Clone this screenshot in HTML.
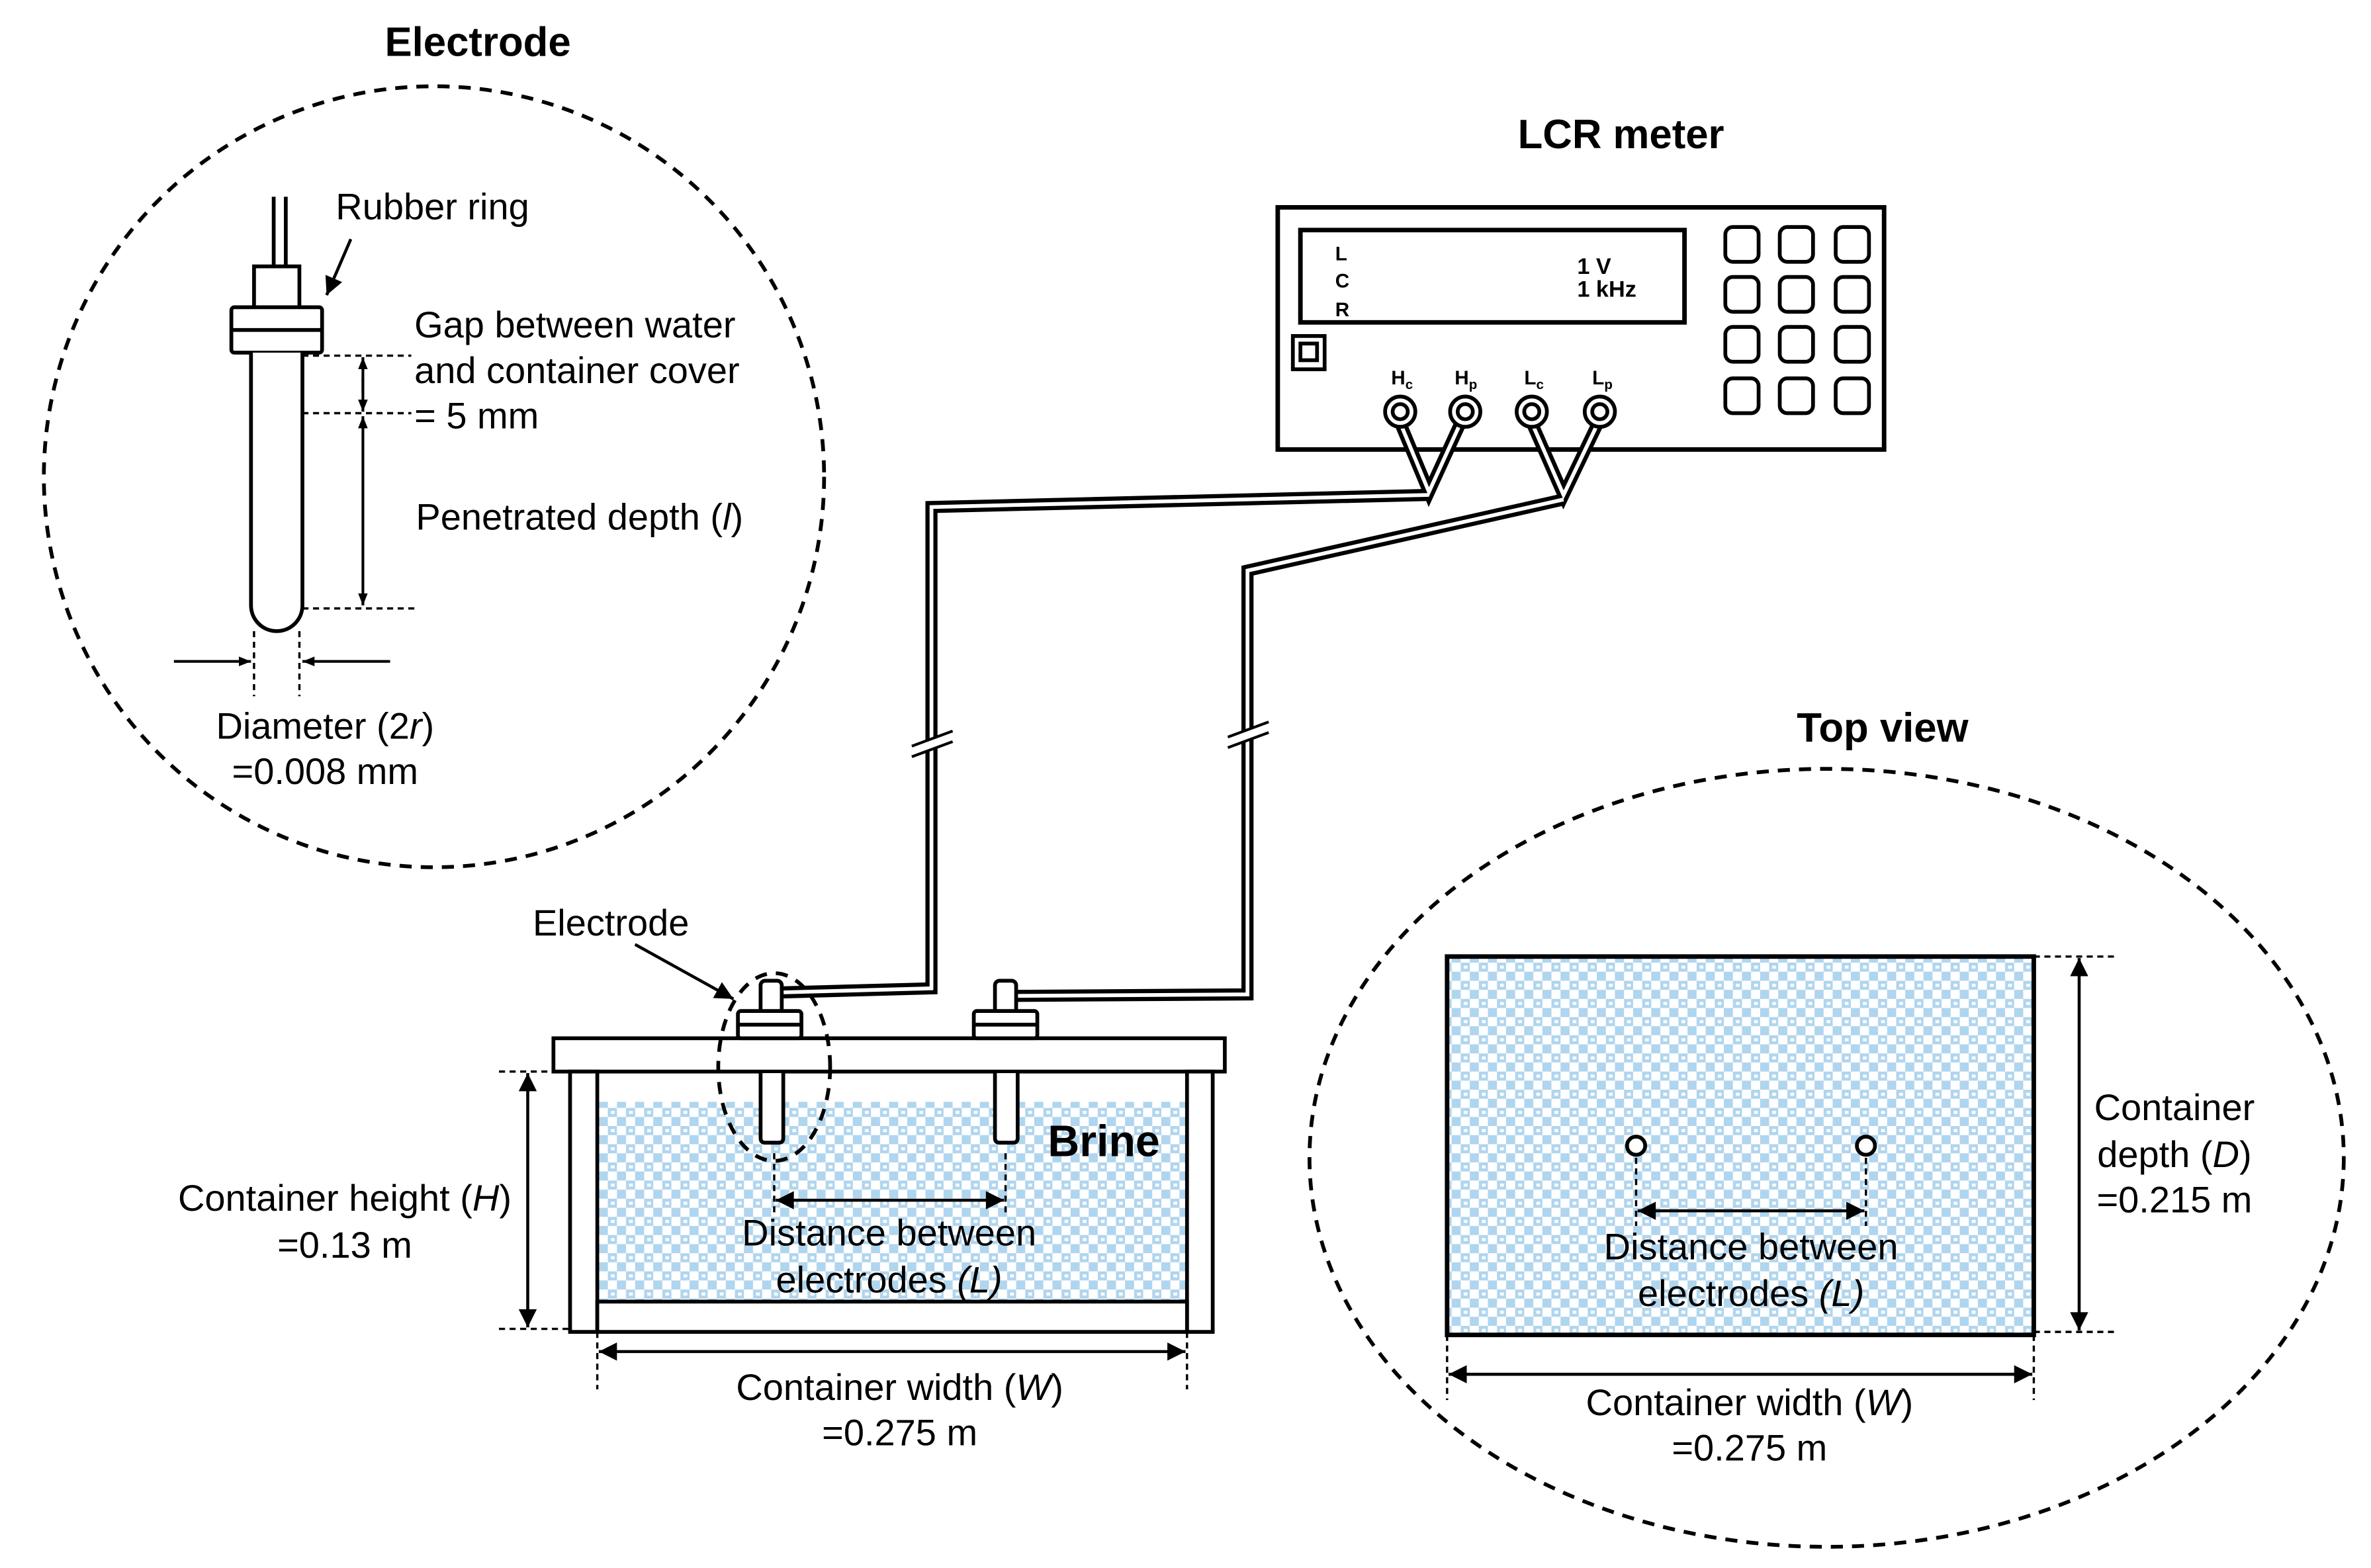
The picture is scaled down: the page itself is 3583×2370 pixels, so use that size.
<!DOCTYPE html>
<html><head><meta charset="utf-8"><style>html,body{margin:0;padding:0;background:#fff}svg{display:block}</style></head><body>
<svg xmlns="http://www.w3.org/2000/svg" width="3583" height="2370" viewBox="0 0 1568 1036" preserveAspectRatio="none" font-family="Liberation Sans, Arial, sans-serif">
<defs>
<pattern id="chk" width="12" height="12" patternUnits="userSpaceOnUse">
<rect width="12" height="12" fill="#b0d5ee"/>
<rect x="0" y="0" width="6" height="6" fill="#fff"/>
<rect x="6" y="6" width="6" height="6" fill="#fff"/>
<rect x="8" y="2" width="2.5" height="2" fill="#fff"/>
</pattern>
<marker id="ah" viewBox="0 0 10 10" refX="10" refY="5" markerWidth="8" markerHeight="8" orient="auto-start-reverse" markerUnits="userSpaceOnUse"><path d="M0,1 L10,5 L0,9z" fill="#000"/></marker>
<marker id="ab" viewBox="0 0 10 10" refX="10" refY="5" markerWidth="14" markerHeight="12" orient="auto-start-reverse" markerUnits="userSpaceOnUse"><path d="M0,0 L10,5 L0,10z" fill="#000"/></marker>
</defs>
<rect width="1568" height="1036" fill="#fff"/>
<g font-size="24.5" fill="#000">
<!-- Electrode detail -->
<text x="316" y="37" font-size="27" font-weight="bold" text-anchor="middle">Electrode</text>
<ellipse cx="287" cy="315" rx="258" ry="258" fill="none" stroke="#000" stroke-width="2.5" stroke-dasharray="8,6"/>
<path d="M181,130 V176 M189,130 V176" stroke="#000" stroke-width="2.5"/>
<rect x="168" y="176" width="30" height="27" fill="#fff" stroke="#000" stroke-width="2.5"/>
<rect x="153" y="203" width="60" height="30" rx="2" fill="#fff" stroke="#000" stroke-width="2.5"/>
<line x1="153" y1="218" x2="213" y2="218" stroke="#000" stroke-width="2.5"/>
<path d="M166,233 V400 A17,17 0 0 0 200,400 V233" fill="#fff" stroke="#000" stroke-width="2.5"/>
<g stroke="#000" stroke-width="1.5" stroke-dasharray="4,3"><line x1="200" y1="235" x2="272" y2="235"/><line x1="200" y1="273" x2="272" y2="273"/><line x1="200" y1="402" x2="277" y2="402"/><line x1="168" y1="417" x2="168" y2="460"/><line x1="198" y1="417" x2="198" y2="460"/></g>
<g stroke="#000" stroke-width="1.8" fill="none"><line x1="240" y1="260" x2="240" y2="236" marker-end="url(#ah)"/><line x1="240" y1="250" x2="240" y2="272" marker-end="url(#ah)"/><line x1="240" y1="275" x2="240" y2="400" marker-start="url(#ah)" marker-end="url(#ah)"/>
<line x1="115" y1="437" x2="166" y2="437" marker-end="url(#ah)"/><line x1="258" y1="437" x2="200" y2="437" marker-end="url(#ah)"/>
<line x1="232" y1="158" x2="216" y2="195" stroke-width="2" marker-end="url(#ab)"/></g>
<text x="222" y="145">Rubber ring</text>
<text x="274" y="223">Gap between water</text>
<text x="274" y="253">and container cover</text>
<text x="274" y="283">= 5 mm</text>
<text x="275" y="350">Penetrated depth (<tspan font-style="italic">l</tspan>)</text>
<text x="215" y="488" text-anchor="middle">Diameter (2<tspan font-style="italic">r</tspan>)</text>
<text x="215" y="518" text-anchor="middle">=0.008 mm</text>

<!-- LCR meter -->
<text x="1072" y="98" font-size="27" font-weight="bold" text-anchor="middle">LCR meter</text>
<rect x="845" y="137" width="401" height="160" fill="#fff" stroke="#000" stroke-width="3"/>
<rect x="860" y="152" width="254" height="61" fill="none" stroke="#000" stroke-width="3"/>
<g font-size="13" font-weight="bold"><text x="883" y="172">L</text><text x="883" y="190">C</text><text x="883" y="209">R</text></g>
<g font-size="15" font-weight="bold"><text x="1043" y="181">1 V</text><text x="1043" y="196">1 kHz</text></g>
<rect x="855" y="222" width="21" height="22" fill="none" stroke="#000" stroke-width="2.5"/><rect x="860" y="227" width="11" height="11" fill="none" stroke="#000" stroke-width="2.5"/>
<g fill="none" stroke="#000" stroke-width="2.5">
<rect x="1141" y="150" width="22" height="23" rx="5"/><rect x="1177" y="150" width="22" height="23" rx="5"/><rect x="1214" y="150" width="22" height="23" rx="5"/>
<rect x="1141" y="183" width="22" height="23" rx="5"/><rect x="1177" y="183" width="22" height="23" rx="5"/><rect x="1214" y="183" width="22" height="23" rx="5"/>
<rect x="1141" y="216" width="22" height="23" rx="5"/><rect x="1177" y="216" width="22" height="23" rx="5"/><rect x="1214" y="216" width="22" height="23" rx="5"/>
<rect x="1141" y="250" width="22" height="23" rx="5"/><rect x="1177" y="250" width="22" height="23" rx="5"/><rect x="1214" y="250" width="22" height="23" rx="5"/>
</g>
<g font-size="13" font-weight="bold"><text x="920" y="254">H<tspan font-size="9" dy="3">c</tspan></text><text x="962" y="254">H<tspan font-size="9" dy="3">p</tspan></text><text x="1008" y="254">L<tspan font-size="9" dy="3">c</tspan></text><text x="1053" y="254">L<tspan font-size="9" dy="3">p</tspan></text></g>

<!-- cables -->
<g fill="none" stroke-linejoin="miter">
<g stroke="#000" stroke-width="8">
<path d="M925,277 L945,325 L967,277"/><path d="M1012,277 L1034,327 L1058,277"/>
<path d="M945,327 L616,335 V653 L506,656"/>
<path d="M1034,330 L825,377 V657 L672,658"/>
</g>
<g stroke="#fff" stroke-width="2.5">
<path d="M925,277 L945,325 L967,277"/><path d="M1012,277 L1034,327 L1058,277"/>
<path d="M945,327 L616,335 V653 L506,656"/>
<path d="M1034,330 L825,377 V657 L672,658"/>
</g>
</g>
<g stroke="#fff" stroke-width="6"><line x1="605" y1="496" x2="628" y2="488"/><line x1="814" y1="490" x2="837" y2="482"/></g>
<g stroke="#000" stroke-width="1.8"><line x1="603" y1="500" x2="630" y2="490"/><line x1="603" y1="493" x2="630" y2="483"/><line x1="812" y1="494" x2="839" y2="484"/><line x1="812" y1="487" x2="839" y2="477"/></g>
<g fill="#fff" stroke="#000" stroke-width="2.5"><circle cx="926" cy="272" r="10"/><circle cx="926" cy="272" r="5"/><circle cx="969" cy="272" r="10"/><circle cx="969" cy="272" r="5"/><circle cx="1013" cy="272" r="10"/><circle cx="1013" cy="272" r="5"/><circle cx="1058" cy="272" r="10"/><circle cx="1058" cy="272" r="5"/></g>

<!-- container -->
<rect x="395" y="728" width="390" height="132" fill="url(#chk)"/>
<g fill="#fff" stroke="#000" stroke-width="2.5">
<rect x="366" y="686" width="444" height="22"/>
<rect x="377" y="708" width="18" height="172"/>
<rect x="785" y="708" width="17" height="172"/>
<rect x="395" y="860" width="390" height="20"/>
<rect x="503" y="648" width="14" height="22" rx="3"/><rect x="488" y="668" width="42" height="18" rx="2"/><line x1="488" y1="677" x2="530" y2="677"/>
<rect x="658" y="648" width="14" height="22" rx="3"/><rect x="644" y="668" width="42" height="18" rx="2"/><line x1="644" y1="677" x2="686" y2="677"/>
<path d="M503,709 V752 q0,3 3,3 h9 q3,0 3,-3 V709"/>
<path d="M658,709 V752 q0,3 3,3 h9 q3,0 3,-3 V709"/>
</g>
<ellipse cx="512" cy="705" rx="37" ry="62" fill="none" stroke="#000" stroke-width="2.5" stroke-dasharray="8,6"/>
<line x1="420" y1="624" x2="485" y2="660" stroke="#000" stroke-width="2" marker-end="url(#ab)"/>
<text x="404" y="618" text-anchor="middle">Electrode</text>
<text x="730" y="764" font-size="29" font-weight="bold" text-anchor="middle">Brine</text>
<g stroke="#000" stroke-width="1.5" stroke-dasharray="4,3"><line x1="512" y1="762" x2="512" y2="802"/><line x1="665" y1="762" x2="665" y2="802"/>
<line x1="330" y1="708" x2="377" y2="708"/><line x1="330" y1="878" x2="377" y2="878"/>
<line x1="395" y1="880" x2="395" y2="918"/><line x1="785" y1="880" x2="785" y2="918"/></g>
<g stroke="#000" stroke-width="2" fill="none"><line x1="513" y1="793" x2="664" y2="793" marker-start="url(#ab)" marker-end="url(#ab)"/>
<line x1="349" y1="709" x2="349" y2="877" marker-start="url(#ab)" marker-end="url(#ab)"/>
<line x1="396" y1="893" x2="784" y2="893" marker-start="url(#ab)" marker-end="url(#ab)"/></g>
<text x="588" y="823" text-anchor="middle">Distance between</text>
<text x="588" y="854" text-anchor="middle">electrodes <tspan font-style="italic">(L)</tspan></text>
<text x="228" y="800" text-anchor="middle">Container height (<tspan font-style="italic">H</tspan>)</text>
<text x="228" y="831" text-anchor="middle">=0.13 m</text>
<text x="595" y="925" text-anchor="middle">Container width (<tspan font-style="italic">W</tspan>)</text>
<text x="595" y="955" text-anchor="middle">=0.275 m</text>

<!-- top view -->
<text x="1245" y="490" font-size="27" font-weight="bold" text-anchor="middle">Top view</text>
<ellipse cx="1208" cy="765" rx="342" ry="257" fill="none" stroke="#000" stroke-width="2.5" stroke-dasharray="8,6"/>
<rect x="957" y="632" width="388" height="250" fill="url(#chk)" stroke="#000" stroke-width="3"/>
<g fill="#fff" stroke="#000" stroke-width="2.5"><circle cx="1082" cy="757" r="6"/><circle cx="1234" cy="757" r="6"/></g>
<g stroke="#000" stroke-width="1.5" stroke-dasharray="4,3"><line x1="1082" y1="765" x2="1082" y2="810"/><line x1="1234" y1="765" x2="1234" y2="810"/>
<line x1="1345" y1="632" x2="1400" y2="632"/><line x1="1345" y1="880" x2="1400" y2="880"/>
<line x1="957" y1="882" x2="957" y2="925"/><line x1="1345" y1="882" x2="1345" y2="925"/></g>
<g stroke="#000" stroke-width="2" fill="none"><line x1="1083" y1="800" x2="1233" y2="800" marker-start="url(#ab)" marker-end="url(#ab)"/>
<line x1="1375" y1="633" x2="1375" y2="879" marker-start="url(#ab)" marker-end="url(#ab)"/>
<line x1="958" y1="908" x2="1344" y2="908" marker-start="url(#ab)" marker-end="url(#ab)"/></g>
<text x="1158" y="832" text-anchor="middle">Distance between</text>
<text x="1158" y="863" text-anchor="middle">electrodes <tspan font-style="italic">(L)</tspan></text>
<text x="1438" y="740" text-anchor="middle">Container</text>
<text x="1438" y="771" text-anchor="middle">depth (<tspan font-style="italic">D</tspan>)</text>
<text x="1438" y="801" text-anchor="middle">=0.215 m</text>
<text x="1157" y="935" text-anchor="middle">Container width (<tspan font-style="italic">W</tspan>)</text>
<text x="1157" y="965" text-anchor="middle">=0.275 m</text>
</g>
</svg>
</body></html>
